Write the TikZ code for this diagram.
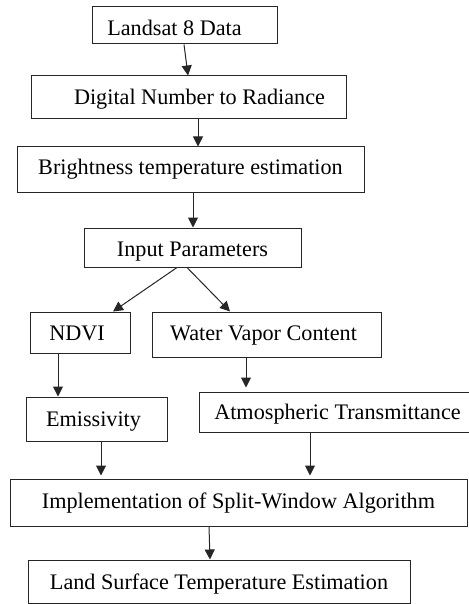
\documentclass[tikz,border=0pt]{standalone}
\usepackage{fontspec}
\setmainfont{Liberation Serif}
\usetikzlibrary{arrows.meta}
\begin{document}
\begin{tikzpicture}[x=1pt,y=-1pt,
  box/.style={draw=black!85, line width=1pt, rectangle, inner sep=0pt,
    text depth=5pt, font=\fontsize{22.2}{26}\selectfont},
  arr/.style={draw=black!85, line width=1pt, -{Triangle[length=10pt,width=10pt]}}]
\useasboundingbox (0,0) rectangle (468,604);
\node[box, minimum width=185pt, minimum height=37pt, text height=26pt] (b1) at (184.5,25.5) {Landsat 8 Data\hspace*{20pt}};
\node[box, minimum width=315pt, minimum height=43pt, text height=20pt] (b2) at (188.5,97.5) {\hspace*{22pt}Digital Number to Radiance};
\node[box, minimum width=347pt, minimum height=45pt, text height=16pt] (b3) at (190.5,169.5) {Brightness temperature estimation};
\node[box, minimum width=217pt, minimum height=39pt, text height=23.4pt] (b4) at (192.5,247.5) {Input Parameters};
\node[box, minimum width=100pt, minimum height=41pt, text height=21.4pt] (b5) at (80,332.5) {NDVI\hspace*{6pt}};
\node[box, minimum width=229pt, minimum height=45pt, text height=17.4pt] (b6) at (266.5,334.5) {Water Vapor Content\hspace*{6pt}};
\node[box, minimum width=141pt, minimum height=44pt, text height=20.4pt] (b7) at (96.5,419) {Emissivity\hspace*{6pt}};
\node[box, minimum width=271pt, minimum height=40pt, text height=19pt] (b8) at (334.5,412) {\hspace*{6pt}Atmospheric Transmittance};
\node[box, minimum width=457pt, minimum height=47pt, text height=16.6pt] (b9) at (238.5,502.5) {Implementation of Split-Window Algorithm};
\node[box, minimum width=382pt, minimum height=43pt, text height=20pt] (b10) at (219,581.5) {Land Surface Temperature Estimation};
\draw[arr] ([xshift=-0.5pt]b1.south) -- ([xshift=-0.5pt]b2.north);
\draw[arr] ([xshift=9.5pt]b2.south) -- ([xshift=7.5pt]b3.north);
\draw[arr] ([xshift=2.5pt]b3.south) -- ([xshift=0.5pt]b4.north);
\draw[arr] ([xshift=-15.5pt]b4.south) -- ([xshift=33pt]b5.north);
\draw[arr] ([xshift=-5.5pt]b4.south) -- ([xshift=-36.5pt]b6.north);
\draw[arr] ([xshift=-22pt]b5.south) -- ([xshift=-38.5pt]b7.north);
\draw[arr, shorten >=4pt] ([xshift=-20.5pt]b6.south) -- ([xshift=-88.5pt]b8.north);
\draw[arr, shorten >=3pt] ([xshift=4.5pt]b7.south) -- ([xshift=-137.5pt]b9.north);
\draw[arr, shorten >=3pt] ([xshift=-24.5pt]b8.south) -- ([xshift=71.5pt]b9.north);
\draw[arr] ([xshift=-29.5pt]b9.south) -- ([xshift=-9pt]b10.north);
\end{tikzpicture}
\end{document}
